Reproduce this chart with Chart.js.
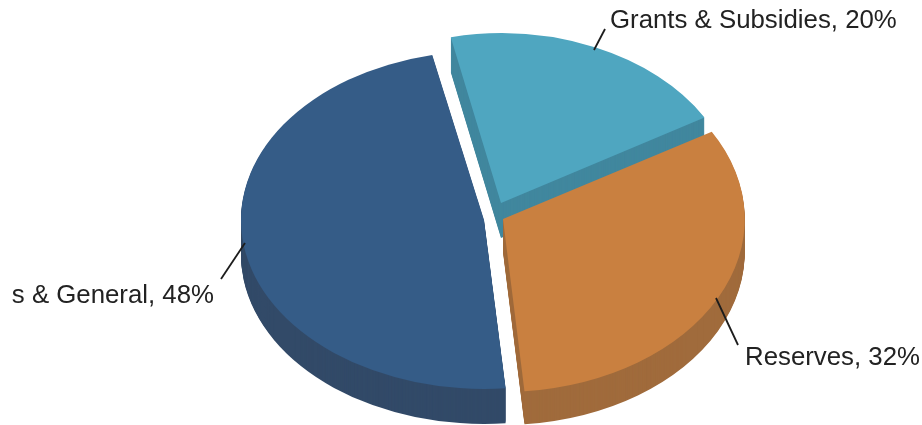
<!DOCTYPE html>
<html>
<head>
<meta charset="utf-8">
<title>Pie</title>
<script src="https://cdn.jsdelivr.net/npm/chart.js@4"></script>
<style>
  html, body { margin: 0; padding: 0; background: #fff; overflow: hidden; }
  canvas { display: block; }
</style>
</head>
<body>
<canvas id="pie" width="922" height="425"></canvas>
<script>
const categories = ['Grants & Subsidies', 'Reserves', 's & General'];
const shares = [20, 32, 48];
const topColors = ['#4fa6c0', '#c98040', '#355c87'];
const wallColors = ['#41879e', '#a06b3c', '#324a68'];

const wallDepth = [35, 33, 35];
// how far each slice is pulled out of the pie, on screen
const pullX = [6, 8, -11];
const pullY = [-11, 5, 6];
const radiusScale = [0.97, 0.995, 1];
// the original has some perspective, so each slice flattens a bit differently
const flat = [0.72, 0.715, 0.695];

const centerX = 495;
const centerY = 214;

// text position and leader line for each label
const labelSpots = [
  { x: 610, y: 21, align: 'left', line: [605, 29, 594, 50] },
  { x: 745, y: 358, align: 'left', line: [738, 345, 716, 298] },
  { x: 214, y: 296, align: 'right', line: [221, 279, 245, 243] }
];

function drawSlice(chart, arc, i, drop) {
  const ctx = chart.ctx;
  const a = chart.chartArea;
  const midX = (a.left + a.right) / 2;
  const midY = (a.top + a.bottom) / 2;
  ctx.save();
  ctx.transform(1, 0, 0, flat[i], centerX - midX, centerY + drop - flat[i] * midY);
  arc.draw(ctx);
  ctx.restore();
}

const piePlugin = {
  id: 'pie3d',
  afterDatasetsUpdate(chart) {
    chart.getDatasetMeta(0).data.forEach((arc, i) => {
      arc.x += pullX[i];
      arc.y += pullY[i] / flat[i];
      arc.outerRadius *= radiusScale[i];
    });
  },
  beforeDatasetsDraw(chart) {
    const arcs = chart.getDatasetMeta(0).data;
    arcs.forEach((arc, i) => {
      const saved = arc.options;
      arc.options = Object.assign({}, saved, { backgroundColor: wallColors[i] });
      for (let d = wallDepth[i]; d > 0; d--) {
        drawSlice(chart, arc, i, d);
      }
      arc.options = saved;
    });
    arcs.forEach((arc, i) => drawSlice(chart, arc, i, 0));
    return false;
  },
  afterDraw(chart) {
    const ctx = chart.ctx;
    ctx.font = '25.8px "Liberation Sans"';
    ctx.textBaseline = 'middle';
    ctx.fillStyle = '#222222';
    ctx.strokeStyle = '#1c1c1c';
    ctx.lineWidth = 1.8;
    labelSpots.forEach((spot, i) => {
      ctx.textAlign = spot.align;
      ctx.fillText(categories[i] + ', ' + shares[i] + '%', spot.x, spot.y);
      ctx.beginPath();
      ctx.moveTo(spot.line[0], spot.line[1]);
      ctx.lineTo(spot.line[2], spot.line[3]);
      ctx.stroke();
    });
  }
};

new Chart(document.getElementById('pie').getContext('2d'), {
  type: 'pie',
  data: {
    labels: categories,
    datasets: [{
      data: shares,
      backgroundColor: topColors,
      borderWidth: 0
    }]
  },
  options: {
    responsive: false,
    animation: false,
    rotation: -12.3,
    radius: 243,
    events: [],
    plugins: { legend: { display: false }, tooltip: { enabled: false } }
  },
  plugins: [piePlugin]
});
</script>
</body>
</html>
